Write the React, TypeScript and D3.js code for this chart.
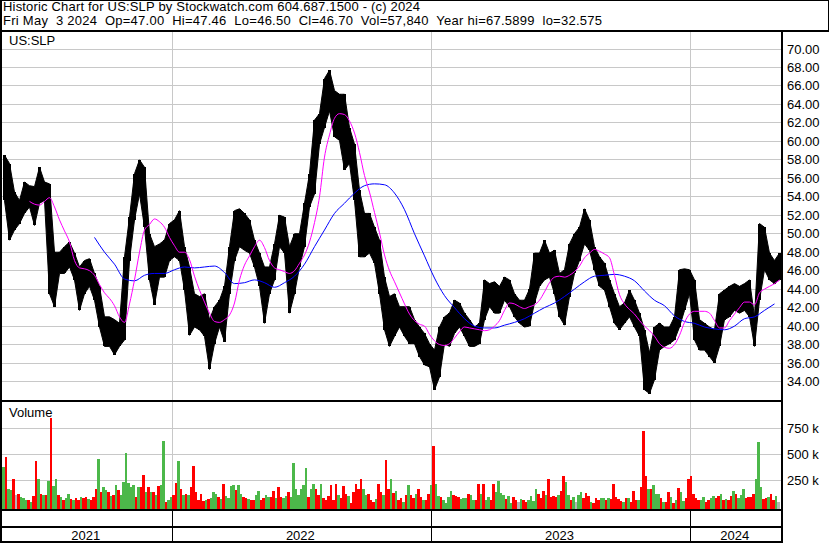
import React from "react";
import * as d3 from "d3";

const WIDTH = 830;
const HEIGHT = 543;

const titleLine = "Historic Chart for US:SLP by Stockwatch.com 604.687.1500 - (c) 2024";
const infoLine = "Fri May  3 2024  Op=47.00  Hi=47.46  Lo=46.50  Cl=46.70  Vol=57,840  Year hi=67.5899  lo=32.575";
const symbolLabel = "US:SLP";
const volumeLabel = "Volume";

const priceTicks = [34, 36, 38, 40, 42, 44, 46, 48, 50, 52, 54, 56, 58, 60, 62, 64, 66, 68, 70];
const volumeTicks = [250, 500, 750];
const yearLabels = ["2021", "2022", "2023", "2024"];
const yearStarts = ["2022-01-01", "2023-01-01", "2024-01-01"];
const seriesStart = "2021-05-06";
const seriesEnd = "2024-05-09";

// price range per ~weekly bucket
const barHigh = [
  58.5, 57.6, 54.5, 53.6, 55.6, 55.2, 55.1, 57.2, 55.6, 55.4,
  48.0, 48.0, 48.6, 49.1, 47.9, 46.4, 47.1, 47.3, 45.7, 44.3,
  41.0, 41.0, 40.7, 40.3, 47.5, 51.8, 56.5, 58.0, 57.2, 50.0,
  48.6, 48.9, 49.3, 51.1, 51.5, 52.5, 48.6, 46.4, 43.5, 43.2,
  43.5, 40.7, 42.1, 42.8, 44.3, 48.6, 52.5, 52.7, 52.2, 51.5,
  49.3, 47.9, 46.4, 46.4, 48.9, 52.0, 51.8, 48.6, 50.0, 50.0,
  53.3, 56.5, 62.3, 63.0, 66.8, 67.7, 65.5, 65.1, 65.1, 61.5,
  59.7, 54.7, 52.2, 52.2, 50.7, 49.3, 45.3, 43.2, 43.5, 42.1,
  42.1, 42.1, 40.7, 39.9, 39.2, 38.1, 37.4, 39.9, 41.0, 41.4,
  42.8, 42.5, 41.4, 40.7, 39.9, 40.3, 45.0, 44.6, 44.8, 44.3,
  45.3, 45.0, 43.5, 42.8, 42.8, 44.0, 47.9, 47.9, 49.3, 47.9,
  48.2, 45.7, 46.1, 48.9, 50.0, 50.7, 52.7, 51.5, 48.6, 47.5,
  46.8, 45.0, 43.5, 42.1, 42.5, 43.9, 42.8, 41.4, 39.6, 37.1,
  39.9, 40.3, 39.9, 39.9, 41.0, 46.1, 46.2, 46.1, 45.0, 40.7,
  40.3, 39.9, 39.6, 43.5, 43.9, 44.3, 44.6, 44.3, 44.6, 45.0,
  41.0, 51.1, 50.7, 47.9, 47.1, 47.9,
];
const barLow = [
  53.6, 49.3, 50.4, 51.1, 52.2, 52.9, 50.9, 53.3, 53.6, 43.5,
  42.1, 45.7, 45.7, 46.4, 45.0, 41.7, 43.5, 44.3, 42.8, 39.9,
  37.8, 37.8, 36.9, 37.8, 38.5, 47.1, 51.5, 54.3, 50.7, 45.0,
  42.3, 45.3, 45.3, 47.1, 47.5, 47.1, 43.9, 39.0, 39.9, 39.6,
  38.9, 35.3, 38.1, 39.9, 38.3, 43.5, 47.1, 48.6, 48.2, 47.9,
  46.4, 44.3, 40.3, 43.5, 45.0, 48.6, 47.9, 41.4, 43.5, 46.4,
  48.6, 52.9, 54.3, 59.7, 61.5, 63.3, 60.5, 60.1, 56.9, 57.6,
  53.6, 47.5, 47.5, 47.9, 46.8, 43.5, 39.6, 37.8, 38.9, 39.9,
  38.9, 38.1, 38.1, 36.7, 35.8, 35.6, 33.1, 34.5, 38.1, 37.8,
  39.2, 39.9, 38.9, 37.8, 37.8, 38.1, 40.7, 42.1, 41.4, 41.4,
  42.8, 42.1, 41.0, 40.3, 39.9, 40.0, 42.5, 44.3, 45.0, 45.3,
  43.5, 41.0, 40.1, 43.2, 45.7, 47.1, 48.9, 48.2, 46.1, 44.3,
  43.9, 42.1, 40.3, 39.6, 40.3, 41.0, 39.9, 38.9, 33.1, 32.7,
  34.2, 37.4, 37.8, 38.1, 38.5, 39.9, 41.7, 43.5, 38.5, 37.4,
  37.4, 36.7, 36.0, 37.8, 40.7, 41.0, 41.7, 41.4, 41.7, 41.0,
  37.8, 42.8, 46.1, 45.0, 44.6, 45.0,
];

// short moving average (magenta), one value per bucket from bucket 5
const maFastStart = 5;
const maFast = [
  53.5, 53.2, 53.1, 53.5, 53.9, 52.9, 51.5, 50.3, 49.1, 47.1,
  46.3, 46.2, 46.0, 45.5, 44.5, 43.6, 43.0, 42.2, 41.0, 40.4,
  42.4, 45.0, 48.0, 50.4, 51.0, 51.6, 51.3, 50.7, 49.6, 48.7,
  48.0, 48.0, 47.2, 45.4, 43.9, 42.6, 41.4, 40.5, 40.4, 40.7,
  41.2, 42.5, 45.0, 46.6, 47.6, 48.6, 49.3, 48.5, 47.1, 46.3,
  46.1, 45.9, 45.7, 46.0, 46.8, 47.7, 49.1, 51.2, 54.0, 58.3,
  60.7, 62.5, 63.0, 62.9, 62.2, 60.9, 58.8, 56.3, 54.5, 52.3,
  50.1, 47.7, 46.0, 44.8, 43.6, 42.4, 41.3, 40.6, 40.2, 40.0,
  39.1, 38.4, 38.0, 37.9, 38.1, 38.7, 39.4, 39.9, 39.8, 39.7,
  39.6, 39.5, 39.6, 40.0, 40.6, 41.7, 42.5, 42.4, 42.1, 41.9,
  42.1, 42.3, 42.8, 43.7, 44.7, 45.3, 45.4, 45.3, 45.5, 45.9,
  46.5, 47.4, 47.9, 48.3, 48.1, 47.8, 47.4, 45.5, 43.4, 42.4,
  41.8, 41.3, 40.6, 40.0, 39.5, 38.9, 38.1, 37.7, 37.6, 38.0,
  39.0, 40.4, 41.3, 41.6, 41.6, 41.6, 41.4, 40.6, 39.8, 39.8,
  40.6, 41.3, 42.0, 42.6, 42.6, 42.3, 43.6, 44.0, 44.3, 44.6,
  45.0,
];

// long moving average (blue), one value every 2 buckets from bucket 18
const maSlowStart = 18;
const maSlowStep = 2;
const maSlow = [
  49.6, 48.0, 46.7, 45.1, 44.9, 45.5, 45.7, 45.7, 46.1, 46.4,
  46.3, 46.4, 46.5, 45.8, 44.6, 44.7, 45.0, 44.7, 44.2, 44.7,
  45.4, 46.7, 48.6, 50.4, 52.2, 53.3, 54.4, 55.2, 55.4, 55.3,
  54.4, 52.6, 50.0, 47.6, 45.2, 43.3, 42.0, 40.8, 40.0, 39.8,
  39.8, 40.1, 40.4, 40.8, 41.4, 42.0, 42.5, 43.2, 44.0, 44.8,
  45.4, 45.5, 45.6, 45.4, 44.9, 43.8, 42.8, 42.2, 41.1, 40.5,
  40.3, 39.9, 39.7, 39.6, 40.0, 40.8, 41.0, 41.7, 42.4,
];

// volume in thousands, two bars per price bucket
const volumeK = [
  381, 477, 173, 157, 263, 109, 125, 93, 77, 67,
  61, 45, 103, 436, 263, 125, 115, 109, 244, 852,
  199, 263, 109, 93, 61, 77, 125, 71, 61, 77,
  67, 93, 77, 93, 71, 61, 93, 173, 455, 135,
  189, 157, 135, 103, 115, 205, 157, 109, 237, 519,
  230, 189, 205, 93, 189, 183, 307, 135, 189, 135,
  141, 109, 199, 205, 628, 45, 61, 93, 115, 228,
  436, 173, 109, 125, 109, 189, 388, 141, 61, 125,
  54, 67, 71, 77, 135, 125, 87, 71, 214, 103,
  83, 199, 205, 157, 205, 125, 93, 83, 71, 61,
  61, 109, 147, 61, 77, 109, 93, 93, 147, 77,
  189, 87, 83, 99, 135, 93, 416, 167, 115, 167,
  205, 368, 93, 173, 212, 167, 109, 221, 77, 61,
  103, 205, 61, 221, 115, 83, 196, 125, 99, 38,
  135, 221, 167, 263, 167, 109, 125, 61, 45, 71,
  221, 135, 109, 446, 173, 269, 128, 147, 61, 77,
  45, 115, 205, 109, 83, 125, 167, 87, 61, 61,
  125, 205, 580, 221, 103, 90, 61, 38, 93, 147,
  115, 99, 87, 71, 77, 77, 125, 109, 61, 67,
  221, 125, 212, 61, 90, 67, 221, 141, 243, 131,
  109, 71, 99, 35, 90, 67, 45, 71, 61, 45,
  61, 99, 51, 167, 119, 77, 147, 109, 263, 93,
  103, 87, 109, 147, 292, 237, 115, 67, 93, 45,
  115, 135, 77, 128, 103, 45, 38, 77, 58, 77,
  77, 61, 77, 71, 212, 93, 71, 51, 45, 77,
  77, 45, 147, 61, 61, 189, 724, 292, 173, 173,
  205, 122, 122, 77, 45, 45, 135, 90, 32, 61,
  180, 135, 51, 83, 263, 292, 125, 77, 61, 61,
  87, 45, 61, 77, 99, 77, 99, 118, 61, 71,
  61, 99, 147, 125, 77, 115, 167, 77, 93, 93,
  125, 263, 622, 189, 71, 77, 93, 125, 61, 102,
  45,
];
// r = down day, g = up day, n = unchanged
const volumeDir =
  "grggrnrggg" + "rgrrgrgrgr" + "ggrgrggrgr" + "rgrrgrrrgr" + "ggrgrgrggg" +
  "gggrgrrgrg" + "rgrggrggrr" + "grgrgrrrrr" + "rgrgggrgrg" + "gggrggrrgr" +
  "rggrrggrrg" + "rrggrggggg" + "ggrggrrgrr" + "rrrrgrrrgr" + "rrrrggrrrg" +
  "rrgrrgrgrr" + "grgrrgrrgr" + "rgrggrgggg" + "rrrgggrggr" + "rgrggrrggg" +
  "grggrrngrr" + "ggggrrrgrr" + "rrgrrggrgn" + "ggrrrgrrrg" + "grgrrrrrgr" +
  "grrrgrrrgr" + "gggrgrrgrg" + "rggrrrrrrg" + "grrggrrgrg" + "rrgrgggrrr" +
  "rgggrrgrrgn";

const FONT = "'Liberation Sans', Arial, Helvetica, sans-serif";
const GRID = "#c8c8c8";
const VOL_COLORS: Record<string, string> = { r: "#ff0000", g: "#4cb84a", n: "#b4b4b4" };

export default function App() {
  const left = 2;
  const right = 782;
  const priceTop = 32;
  const priceBottom = 400;
  const volTop = 402;
  const volBottom = 509;

  const parse = d3.timeParse("%Y-%m-%d");
  const xTime = d3.scaleTime().domain([parse(seriesStart)!, parse(seriesEnd)!]).range([left, right]);
  const xBar = d3.scaleLinear().domain([0, barHigh.length]).range([left, right]);
  const xVol = d3.scaleLinear().domain([0, barHigh.length * 2]).range([left, right]);
  const yPrice = d3.scaleLinear().domain([34, 70]).range([381.5, 49]);
  const yVol = d3.scaleLinear().domain([0, 750]).range([506.5, 428.5]);

  const priceBand = d3
    .area<number>()
    .x((_, k) => xBar(k + 0.5))
    .y0((_, k) => yPrice(barLow[k]))
    .y1((h) => yPrice(h))
    .curve(d3.curveLinear);

  const fastLine = d3
    .line<number>()
    .x((_, i) => xBar(maFastStart + i + 0.5))
    .y((d) => yPrice(d))
    .curve(d3.curveMonotoneX);
  const slowLine = d3
    .line<number>()
    .x((_, i) => xBar(maSlowStart + i * maSlowStep + 0.5))
    .y((d) => yPrice(d))
    .curve(d3.curveMonotoneX);

  const boundaries = yearStarts.map((s) => xTime(parse(s)!));
  const edges = [left, ...boundaries, right];

  return (
    <svg
      width={WIDTH}
      height={HEIGHT}
      style={{ position: "absolute", left: 0, top: 0, background: "#fff" }}
      fontFamily={FONT}
    >
      <defs>
        <clipPath id="priceClip">
          <rect x={left} y={priceTop} width={right - left - 1} height={priceBottom - priceTop} />
        </clipPath>
        <clipPath id="volClip">
          <rect x={left} y={volTop} width={right - left - 1} height={volBottom - volTop} />
        </clipPath>
      </defs>
      <rect x={0} y={0} width={WIDTH} height={HEIGHT} fill="#fff" />

      {/* header */}
      <text x={3} y={11} fontSize={13} fill="#000" textLength={417} lengthAdjust="spacing" style={{ whiteSpace: "pre" }}>
        {titleLine}
      </text>
      <text x={3} y={25} fontSize={13} fill="#000" textLength={599} lengthAdjust="spacing" style={{ whiteSpace: "pre" }}>
        {infoLine}
      </text>

      {/* grid */}
      <g shapeRendering="crispEdges">
        {priceTicks.map((t) => (
          <line key={t} x1={left} x2={right} y1={yPrice(t)} y2={yPrice(t)} stroke={GRID} />
        ))}
        {volumeTicks.map((t) => (
          <line key={t} x1={left} x2={right} y1={yVol(t)} y2={yVol(t)} stroke={GRID} />
        ))}
        {boundaries.map((b, i) => (
          <line key={i} x1={b} x2={b} y1={priceTop} y2={volBottom} stroke={GRID} />
        ))}
      </g>

      {/* price range: band between bucket ranges plus each bucket's high-low bar */}
      <g clipPath="url(#priceClip)">
        <path d={priceBand(barHigh) || ""} fill="#000" stroke="#000" strokeWidth={1} />
        <g shapeRendering="crispEdges">
          {barHigh.map((h, k) => (
            <rect
              key={k}
              x={xBar(k + 0.5) - 1.5}
              width={3}
              y={yPrice(h)}
              height={yPrice(barLow[k]) - yPrice(h)}
              fill="#000"
            />
          ))}
        </g>
      </g>
      <g clipPath="url(#priceClip)" fill="none" strokeWidth={1}>
        <path d={slowLine(maSlow) || ""} stroke="#0000ff" />
        <path d={fastLine(maFast) || ""} stroke="#ff00ff" />
      </g>

      <text x={9} y={45} fontSize={13} fill="#000">
        {symbolLabel}
      </text>

      {/* volume */}
      <g clipPath="url(#volClip)" shapeRendering="crispEdges">
        {volumeK.map((v, i) => (
          <rect
            key={i}
            x={xVol(i)}
            width={xVol(i + 1) - xVol(i)}
            y={yVol(v)}
            height={volBottom - yVol(v)}
            fill={VOL_COLORS[volumeDir[i]] || VOL_COLORS.g}
          />
        ))}
      </g>
      <text x={9} y={417} fontSize={13} fill="#000">
        {volumeLabel}
      </text>

      {/* frame */}
      <g shapeRendering="crispEdges" fill="#000">
        <rect x={0} y={0} width={829} height={1} />
        <rect x={828} y={0} width={1} height={31} />
        <rect x={0} y={30} width={829} height={2} />
        <rect x={0} y={0} width={2} height={HEIGHT} />
        <rect x={781} y={30} width={2} height={HEIGHT - 30} />
        <rect x={0} y={priceBottom} width={783} height={2} />
        <rect x={0} y={volBottom} width={783} height={2} />
        <rect x={0} y={526} width={783} height={2} />
        <rect x={0} y={541} width={783} height={2} />
        {boundaries.map((b, i) => (
          <rect key={i} x={Math.floor(b)} y={volBottom} width={1} height={HEIGHT - volBottom} />
        ))}
      </g>

      {/* axis labels */}
      {priceTicks.map((t) => (
        <text key={t} x={787} y={yPrice(t) + 4.5} fontSize={13} fill="#000">
          {t.toFixed(2)}
        </text>
      ))}
      {volumeTicks.map((t) => (
        <text key={t} x={787} y={yVol(t) + 4.5} fontSize={13} fill="#000">
          {`${t} k`}
        </text>
      ))}
      {yearLabels.map((label, i) => (
        <text
          key={label}
          x={(edges[i] + edges[i + 1]) / 2 - 1.5}
          y={540}
          fontSize={13}
          fill="#000"
          textAnchor="middle"
        >
          {label}
        </text>
      ))}
    </svg>
  );
}
